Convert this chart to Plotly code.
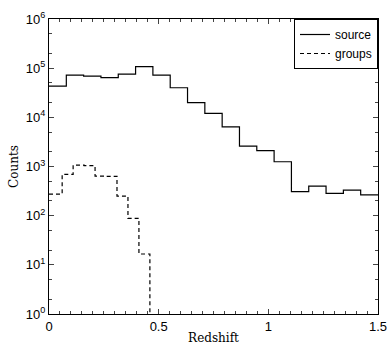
import plotly.graph_objects as go

# source histogram: 19 equal bins on [0, 1.5]
source_edges = [i * 1.5 / 19 for i in range(20)]
source_counts = [43000, 72000, 69000, 64000, 76000, 107000, 72000, 40000, 20000,
                 12000, 6400, 2600, 2100, 1250, 308, 400, 283, 331, 266]

# groups histogram
groups_edges = [0.0, 0.06, 0.11, 0.16, 0.21, 0.26, 0.31, 0.36, 0.41, 0.46, 0.51]
groups_counts = [275, 692, 1070, 1040, 640, 630, 250, 88, 16.6, 0]

xtick_vals = [0, 0.5, 1, 1.5]
xtick_text = ["0", "0.5", "1", "1.5"]
ytick_vals = [1, 10, 100, 1000, 1e4, 1e5, 1e6]
ytick_text = ["10<sup>%d</sup>" % i for i in range(7)]

floor = 0.1  # zero counts drawn below visible range

def step_xy(edges, counts):
    ys = [c if c > 0 else floor for c in counts]
    return list(edges), ys + [ys[-1]]

sx, sy = step_xy(source_edges, source_counts)
gx, gy = step_xy(groups_edges, groups_counts)

fig = go.Figure()
fig.add_trace(go.Scatter(x=sx, y=sy, mode="lines", line=dict(shape="hv", color="black", width=1.2),
                         name="source"))
fig.add_trace(go.Scatter(x=gx, y=gy, mode="lines",
                         line=dict(shape="hv", color="black", width=1.2, dash="4px,3px"),
                         name="groups"))

fig.update_layout(
    width=390, height=345,
    margin=dict(l=49, r=12, t=19, b=31),
    paper_bgcolor="white", plot_bgcolor="white",
    font=dict(family="Liberation Sans, Arial", size=13, color="black"),
    showlegend=True,
    legend=dict(x=1, y=1, xanchor="right", yanchor="top", bordercolor="black", borderwidth=1,
                bgcolor="white", font=dict(size=12), tracegroupgap=0, itemwidth=30),
)
fig.update_xaxes(
    range=[0, 1.5], tickvals=xtick_vals, ticktext=xtick_text, ticks="inside", ticklen=5,
    showline=True, linecolor="black", linewidth=1.2, mirror="allticks", showgrid=False, zeroline=False,
    minor=dict(dtick=0.05, ticks="inside", ticklen=3, showgrid=False), automargin=False,
    title=dict(text="Redshift", font=dict(family="DejaVu Serif", size=12), standoff=2),
)
fig.update_yaxes(
    type="log", range=[0, 6], tickvals=ytick_vals, ticktext=ytick_text, ticks="inside", ticklen=5,
    showline=True, linecolor="black", linewidth=1.2, mirror="allticks", showgrid=False, zeroline=False,
    minor=dict(ticks="inside", ticklen=3, showgrid=False), automargin=False,
    title=dict(text="Counts", font=dict(family="DejaVu Serif", size=12), standoff=4),
)

fig.write_html("out.html")
